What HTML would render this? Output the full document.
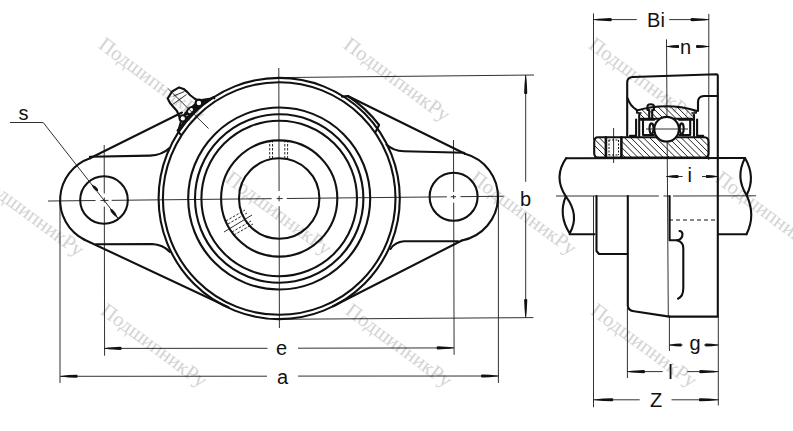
<!DOCTYPE html>
<html><head><meta charset="utf-8">
<style>
html,body{margin:0;padding:0;background:#fff;width:793px;height:431px;overflow:hidden}
svg{display:block}
.t{fill:none;stroke:#111;stroke-width:2.1;stroke-linecap:round;stroke-linejoin:round}
.n{fill:none;stroke:#1a1a1a;stroke-width:0.9}
.lbl{font-family:"Liberation Sans",sans-serif;font-size:20px;fill:#111}
.wm{font-family:"Liberation Serif",serif;font-size:20.5px;fill:#d3d3d3}
</style></head><body>
<svg width="793" height="431" viewBox="0 0 793 431">
<!-- watermarks -->
<g class="wm">
<text transform="translate(105.9,35.65) rotate(36.5)" dominant-baseline="hanging">ПодшипникРу</text>
<text transform="translate(350.9,35.65) rotate(36.5)" dominant-baseline="hanging">ПодшипникРу</text>
<text transform="translate(595.9,35.65) rotate(36.5)" dominant-baseline="hanging">ПодшипникРу</text>
<text transform="translate(-15,170.75) rotate(36.5)" dominant-baseline="hanging">ПодшипникРу</text>
<text transform="translate(232.5,169.35) rotate(36.5)" dominant-baseline="hanging">ПодшипникРу</text>
<text transform="translate(477.5,169.1) rotate(36.5)" dominant-baseline="hanging">ПодшипникРу</text>
<text transform="translate(722.5,169.35) rotate(36.5)" dominant-baseline="hanging">ПодшипникРу</text>
<text transform="translate(107.9,301.55) rotate(36.5)" dominant-baseline="hanging">ПодшипникРу</text>
<text transform="translate(352.9,301.55) rotate(36.5)" dominant-baseline="hanging">ПодшипникРу</text>
<text transform="translate(597.9,301.55) rotate(36.5)" dominant-baseline="hanging">ПодшипникРу</text>
</g>

<!-- ===== LEFT VIEW ===== -->
<!-- center lines -->
<g class="n">
<path d="M48,201.02 L95.5,200.52 M100.5,200.47 L108.6,200.38 M111.6,200.35 L271.6,198.66 M276.7,198.61 L282.7,198.55 M286.8,198.50 L446.9,196.82 M450.7,196.78 L456,196.72 M460.5,196.67 L503.6,196.22"/>
<path d="M278.80,68 L279.08,191 M279.09,195.8 L279.11,201.3 M279.12,206.2 L279.40,328"/>
<path d="M104.20,145 L104.29,193.5 M104.30,197.5 L104.31,202.5 M104.32,206.5 L104.60,355.7"/>
<path d="M453.50,140 L453.65,192 M453.65,195 L453.66,199 M453.68,202.7 L454.10,354.8"/>
<line x1="60" y1="200" x2="60" y2="383"/>
<line x1="498.4" y1="196" x2="498.4" y2="383"/>
<!-- b extension lines -->
<line x1="279" y1="77.6" x2="534" y2="75"/>
<line x1="279" y1="319.3" x2="533.4" y2="317.6"/>
</g>
<!-- circles -->
<g class="t">
<circle cx="279.2" cy="198.5" r="40.2"/>
<circle cx="279.2" cy="198.5" r="58.1"/>
<circle cx="279.2" cy="198.5" r="77.8"/>
<circle cx="279.2" cy="198.5" r="84.2"/>
<circle cx="279.2" cy="198.5" r="91"/>
<circle cx="279.2" cy="198.5" r="116.3"/>
<circle cx="279.2" cy="198.5" r="120.6"/>
<!-- bolt holes -->
<circle cx="104" cy="200" r="23.8"/>
<circle cx="453.6" cy="196.8" r="24"/>
<!-- ears -->
<path d="M90,158.3 A44.3,44.3 0 0 0 84,239.5"/>
<path d="M464.95,153.77 A44.5,44.5 0 0 1 461.8,240.5"/>
<!-- tapers -->
<path d="M90,158.3 L182,112.5"/>
<path d="M84,239.5 L228.4,307.2"/>
<path d="M464.95,153.77 L347.8,96"/>
<path d="M461.8,240.5 L333,306.2"/>
<!-- inner flange lines -->
<path d="M90,156.8 L150,155.6 Q162,155.2 169.5,148"/>
<path d="M96,244.3 L152,244 Q163,244.5 170,252"/>
<path d="M464,152.7 L404,151.3 Q393,151 386.5,144.5"/>
<path d="M458,241.2 L404,241.3 Q395,242 390.5,249"/>
<!-- band bumps -->
<path d="M342,96.6 L347.8,96 A124.3,124.3 0 0 1 379.1,125 L375.8,131.5"/>
<path d="M214.4,98.3 L212.5,97.7 A124.3,124.3 0 0 0 177.6,130.4 L180.5,134.5"/>
</g>
<!-- grease nipple -->
<path d="M182,117 L184.5,112.5 L190,107.5 L195.5,102.5 L200,99.2 L206,98.3 L213.6,97.2 Z" fill="#111"/>
<g class="t" stroke-width="1.8">
<path d="M182,117 L213.6,97.2 M179,128.5 L182.3,117"/>
<path d="M167.7,98.5 L172.1,91.5 L179.1,87.4 L183.6,88.9 L187.4,92.1 L190,95 L194.5,98.5 L198.5,101 L200.5,103 L199.5,106.5 L196,108.5 L193.5,110.5 L191.5,114 L187,117 L184.5,120.5 L180.5,120 L179,116 L177,111 L173,106.5 L170,103 Z"/>
<circle cx="198.9" cy="102.9" r="3.3" fill="#fff"/>
<ellipse cx="190.6" cy="110.6" rx="4" ry="2.8" transform="rotate(-45 190.6 110.6)" fill="#fff"/>
<circle cx="182.8" cy="118.4" r="3.2" fill="#fff"/>
</g>
<g class="n" stroke-width="1">
<path d="M173.5,96 L184.5,91.5 M172.5,104.5 L186.5,94.5"/>
</g>
<path d="M91.20,184.20 L93.36,188.34 L95.81,190.79 L98.20,191.20 L97.79,188.81 L95.34,186.36 Z M118.00,218.40 L115.59,213.12 L112.86,209.69 L110.20,208.60 L110.66,211.43 L113.39,214.86 Z" fill="#111"/>
<line class="n" x1="168.3" y1="88.9" x2="208.5" y2="128.5"/>
<!-- hidden set screw dashes -->
<g stroke="#111" stroke-width="0.9" stroke-dasharray="2.5,1.5">
<line x1="269.7" y1="140" x2="269.7" y2="158.6"/>
<line x1="272.5" y1="140" x2="272.5" y2="158.6"/>
<line x1="284.8" y1="140" x2="284.8" y2="158.6"/>
<line x1="287.6" y1="140" x2="287.6" y2="158.6"/>
<line x1="226" y1="221" x2="245" y2="210"/>
<line x1="228" y1="224" x2="247" y2="213"/>
<line x1="232" y1="232" x2="251" y2="221"/>
<line x1="234" y1="235" x2="253" y2="224"/>
</g>
<line class="n" x1="224" y1="232" x2="252" y2="215"/>

<!-- s leader -->
<g class="n">
<path d="M10,122.5 L43.2,122.5 L118.5,218.8"/>
</g>
<text class="lbl" x="23.4" y="120" text-anchor="middle">s</text>

<!-- dimensions -->
<g class="n">
<line x1="104" y1="348.4" x2="267.5" y2="348.3"/>
<line x1="298" y1="348.2" x2="454" y2="347.9"/>
<line x1="60" y1="376.3" x2="267" y2="376.2"/>
<line x1="298" y1="376.1" x2="498.4" y2="376"/>
<line x1="525.7" y1="75" x2="525.7" y2="181.8"/>
<line x1="525.7" y1="213" x2="525.7" y2="317.6"/>
</g>
<text class="lbl" x="281.5" y="355" text-anchor="middle">e</text>
<text class="lbl" x="282.5" y="383.5" text-anchor="middle">a</text>
<text class="lbl" x="525.5" y="205.5" text-anchor="middle">b</text>

<!-- ===== RIGHT VIEW ===== -->
<g class="n">
<path d="M593.5,13.4 L593.5,140 M593.5,196 L593.5,407.3"/>
<line x1="708.8" y1="13.9" x2="708.8" y2="160"/>
<line x1="666.5" y1="39.4" x2="668.3" y2="316"/>
<line x1="627.4" y1="308" x2="627.4" y2="378"/>
<line x1="718.3" y1="316" x2="718.3" y2="405.5"/>
<path d="M556,196 L658.8,196 M663.5,196 L669.5,196 M673,196 L756,195.8"/>
<line x1="669.4" y1="316" x2="669.4" y2="351"/>
<!-- dims -->
<line x1="593.5" y1="19.6" x2="636.8" y2="19.6"/>
<line x1="669.2" y1="19.6" x2="708.8" y2="19.6"/>
<line x1="666.5" y1="46.5" x2="678.9" y2="46.5"/>
<line x1="696" y1="46.5" x2="709.2" y2="46.5"/>
<line x1="666.4" y1="176.5" x2="682.7" y2="176.5"/>
<line x1="702" y1="176.5" x2="718" y2="176.5"/>
<line x1="669.5" y1="345" x2="682.7" y2="345"/>
<line x1="704" y1="345" x2="718.3" y2="345"/>
<line x1="627.4" y1="371.6" x2="662.7" y2="371.6"/>
<line x1="687.3" y1="371.6" x2="718.3" y2="371.6"/>
<line x1="593.6" y1="399.8" x2="639.7" y2="399.8"/>
<line x1="671.5" y1="399.8" x2="718.3" y2="399.8"/>
</g>
<g fill="#111">
<path d="M104.20,348.55 L108.53,349.20 L112.85,349.60 L120.29,349.95 L121.50,349.60 L121.50,347.20 L120.29,346.85 L112.85,347.20 L108.53,347.60 L104.20,348.25 Z"/>
<path d="M454.00,347.75 L449.68,347.10 L445.35,346.70 L437.91,346.35 L436.70,346.70 L436.70,349.10 L437.91,349.45 L445.35,349.10 L449.68,348.70 L454.00,348.05 Z"/>
<path d="M60.20,376.45 L64.53,377.10 L68.85,377.50 L76.29,377.85 L77.50,377.50 L77.50,375.10 L76.29,374.75 L68.85,375.10 L64.53,375.50 L60.20,376.15 Z"/>
<path d="M498.40,375.85 L494.07,375.20 L489.75,374.80 L482.31,374.45 L481.10,374.80 L481.10,377.20 L482.31,377.55 L489.75,377.20 L494.07,376.80 L498.40,376.15 Z"/>
<path d="M525.55,75.00 L524.90,79.75 L524.50,84.50 L524.15,92.67 L524.50,94.00 L526.90,94.00 L527.25,92.67 L526.90,84.50 L526.50,79.75 L525.85,75.00 Z"/>
<path d="M525.85,317.60 L526.50,312.98 L526.90,308.35 L527.25,300.40 L526.90,299.10 L524.50,299.10 L524.15,300.40 L524.50,308.35 L524.90,312.98 L525.55,317.60 Z"/>
<path d="M593.50,19.75 L598.05,20.40 L602.60,20.80 L610.43,21.15 L611.70,20.80 L611.70,18.40 L610.43,18.05 L602.60,18.40 L598.05,18.80 L593.50,19.45 Z"/>
<path d="M708.80,19.45 L704.25,18.80 L699.70,18.40 L691.87,18.05 L690.60,18.40 L690.60,20.80 L691.87,21.15 L699.70,20.80 L704.25,20.40 L708.80,19.75 Z"/>
<path d="M666.50,46.65 L669.62,47.30 L672.75,47.70 L678.12,48.05 L679.00,47.70 L679.00,45.30 L678.12,44.95 L672.75,45.30 L669.62,45.70 L666.50,46.35 Z"/>
<path d="M709.20,46.35 L705.95,45.70 L702.70,45.30 L697.11,44.95 L696.20,45.30 L696.20,47.70 L697.11,48.05 L702.70,47.70 L705.95,47.30 L709.20,46.65 Z"/>
<path d="M666.40,176.65 L669.40,177.30 L672.40,177.70 L677.56,178.05 L678.40,177.70 L678.40,175.30 L677.56,174.95 L672.40,175.30 L669.40,175.70 L666.40,176.35 Z"/>
<path d="M718.00,176.35 L715.00,175.70 L712.00,175.30 L706.84,174.95 L706.00,175.30 L706.00,177.70 L706.84,178.05 L712.00,177.70 L715.00,177.30 L718.00,176.65 Z"/>
<path d="M669.50,345.15 L672.50,345.80 L675.50,346.20 L680.66,346.55 L681.50,346.20 L681.50,343.80 L680.66,343.45 L675.50,343.80 L672.50,344.20 L669.50,344.85 Z"/>
<path d="M718.30,344.85 L715.05,344.20 L711.80,343.80 L706.21,343.45 L705.30,343.80 L705.30,346.20 L706.21,346.55 L711.80,346.20 L715.05,345.80 L718.30,345.15 Z"/>
<path d="M627.40,371.75 L631.77,372.40 L636.15,372.80 L643.67,373.15 L644.90,372.80 L644.90,370.40 L643.67,370.05 L636.15,370.40 L631.77,370.80 L627.40,371.45 Z"/>
<path d="M718.30,371.45 L713.55,370.80 L708.80,370.40 L700.63,370.05 L699.30,370.40 L699.30,372.80 L700.63,373.15 L708.80,372.80 L713.55,372.40 L718.30,371.75 Z"/>
<path d="M593.60,399.95 L598.48,400.60 L603.35,401.00 L611.74,401.35 L613.10,401.00 L613.10,398.60 L611.74,398.25 L603.35,398.60 L598.48,399.00 L593.60,399.65 Z"/>
<path d="M718.30,399.65 L713.47,399.00 L708.65,398.60 L700.35,398.25 L699.00,398.60 L699.00,401.00 L700.35,401.35 L708.65,401.00 L713.47,400.60 L718.30,399.95 Z"/>
</g>
<text class="lbl" x="656" y="26.8" text-anchor="middle">Bi</text>
<text class="lbl" x="685.5" y="54.3" text-anchor="middle">n</text>
<text class="lbl" x="689.8" y="181.5" text-anchor="middle">i</text>
<text class="lbl" x="695" y="350" text-anchor="middle">g</text>
<text class="lbl" x="670.6" y="379" text-anchor="middle">l</text>
<text class="lbl" x="656" y="407" text-anchor="middle">Z</text>

<!-- housing upper section -->
<defs>
<clipPath id="ir"><path d="M598,137.3 L704.5,137.3 Q708.5,137.5 708.5,142 L708.5,153 Q708.5,157.6 704.5,157.6 L598,157.6 Q594.2,157.6 594.2,153 L594.2,142 Q594.2,137.3 598,137.3 Z M606.5,137.3 L606.5,157.6 L621,157.6 L621,137.3 Z" clip-rule="evenodd"/></clipPath>
<clipPath id="or"><path d="M636.8,110.5 Q667,102 696.2,110.7 L692,118.8 L641,118.8 Z"/></clipPath>
</defs>
<g clip-path="url(#ir)" stroke="#222" stroke-width="1">
<path d="M586,137 l21,21 M592.3,137 l21,21 M598.6,137 l21,21 M604.9,137 l21,21 M611.2,137 l21,21 M617.5,137 l21,21 M623.8,137 l21,21 M630.1,137 l21,21 M636.4,137 l21,21 M642.7,137 l21,21 M649,137 l21,21 M655.3,137 l21,21 M661.6,137 l21,21 M667.9,137 l21,21 M674.2,137 l21,21 M680.5,137 l21,21 M686.8,137 l21,21 M693.1,137 l21,21 M699.4,137 l21,21 M705.7,137 l21,21"/>
</g>
<g clip-path="url(#or)" stroke="#222" stroke-width="1">
<path d="M626,100 l21,21 M632.3,100 l21,21 M638.6,100 l21,21 M644.9,100 l21,21 M651.2,100 l21,21 M657.5,100 l21,21 M663.8,100 l21,21 M670.1,100 l21,21 M676.4,100 l21,21 M682.7,100 l21,21 M689,100 l21,21"/>
</g>
<g class="t">
<path d="M627.2,136 L627.2,82.5 Q627.2,77.2 633,77 L716.5,74.3 Q717.8,74.3 717.8,76 L717.8,316.6 L669.3,316.6"/>
<path d="M717.8,96 L704,96 Q698,96.3 698,102 L698,111"/>
<path d="M627.6,98.3 Q630,106 636.8,110"/>
<!-- outer ring -->
<path d="M636.8,110.5 Q667,102 696.2,110.7"/>
<path d="M641,118.8 L692,118.8"/>
<!-- nubs -->
<path d="M647.5,110 L647.5,106 Q648,104.3 650.5,104.3 Q653.5,104.3 654,106 L654,110 M649.2,110 L649.2,118.8 M652.2,110 L652.2,118.8"/>
<!-- left seal -->
<path d="M630,135.9 L636.1,135.9 L636.1,119.6 M639.2,114.8 L639.2,135.9 M639.8,119.6 L654.4,119.6 M643,119.6 L643,135 L654,135"/>
<!-- right seal -->
<path d="M703.2,135.9 L697.1,135.9 L697.1,119.6 M694,114.8 L694,135.9 M693.4,119.6 L678.8,119.6 M690.2,119.6 L690.2,135 L679.2,135"/>
<path d="M636.8,110.5 L636.8,113 L641,113 M696.2,110.7 L696.2,113 L692,113" stroke-width="1.6"/>
<!-- inner ring -->
<path d="M598,137.3 L704.5,137.3 Q708.5,137.5 708.5,142 L708.5,153 Q708.5,157.6 704.5,157.6 L598,157.6 Q594.2,157.6 594.2,153 L594.2,142 Q594.2,137.3 598,137.3 Z"/>
<path d="M605.9,137.3 L605.9,157.6 M621.4,137.3 L621.4,157.6" stroke-width="2.6"/>
</g>
<g stroke="#111" stroke-width="1" stroke-dasharray="2,1.5">
<path d="M608.5,140 L619,140 M608.5,155 L619,155 M609,140 L609,155 M618.5,140 L618.5,155"/>
</g>
<line class="n" x1="613.6" y1="128" x2="613.6" y2="163"/>
<!-- ball and cage -->
<circle cx="666.6" cy="129.2" r="12.3" fill="#fff" stroke="#111" stroke-width="2.1"/>
<g class="t" stroke-width="1.6">
<ellipse cx="651.5" cy="128.6" rx="2" ry="5.3"/>
<ellipse cx="681.7" cy="128.6" rx="2" ry="5.3"/>
</g>
<g class="n">
<path d="M646,129 L688,129"/>
</g>
<g class="t">
<!-- shaft -->
<path d="M566.2,158.2 L745,158"/>
<path d="M566.2,158.2 Q553,177 565.8,196.4"/>
<path d="M565.8,196.4 Q558,215 569.7,233.5 Q580,215 565.8,196.4"/>
<path d="M569.7,234.3 L594.5,234.3"/>
<path d="M718,234.3 L746.5,234.2"/>
<path d="M745,158 Q735,177 746.6,195.2 Q756,177 745,158"/>
<path d="M746.6,195.2 Q756,215 746.5,234.2"/>
<!-- lower elevation -->
<path d="M596.5,196 L596.5,251 L599,254 L627.2,254"/>
<path d="M627.8,196 L627.8,306 Q628.5,310.5 634,311.3 L669.3,316.6"/>
<path d="M669.6,196 L669.6,240.3 L677,240.3 Q682.5,239.5 682.5,234 Q682,231 679.5,231"/>
<path d="M677,240.3 Q683.3,242 683.3,248 L683.3,288 Q683.3,296.5 678,298.7"/>
</g>
<line x1="669" y1="220" x2="718" y2="220" stroke="#111" stroke-width="1" stroke-dasharray="4,3"/>
</svg>
</body></html>
